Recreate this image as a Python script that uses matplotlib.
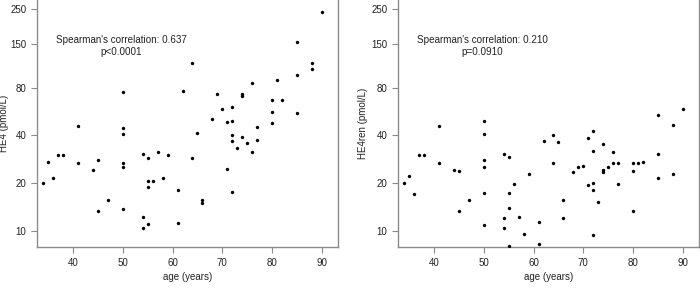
import matplotlib
matplotlib.use("Agg")
import matplotlib.pyplot as plt

# HE4 vs age (left panel)
he4_age = [90, 85, 64, 88, 88, 85, 81, 76, 50, 62, 69, 74, 74, 80, 82, 70, 72,
           80, 85, 68, 71, 72, 80, 41, 50, 50, 77, 65, 72, 74, 72, 77, 75, 73,
           76, 35, 37, 38, 41, 44, 45, 50, 50, 54, 55, 57, 59, 64, 71, 58, 36,
           34, 55, 56, 55, 61, 72, 47, 66, 66, 45, 50, 54, 55, 54, 61]
he4_val = [240, 154, 115, 115, 105, 96.5, 89, 85.5, 75.4, 76.5, 73.2, 73.2, 71,
           66.8, 66.8, 58.7, 60.1, 56.4, 55.4, 50.7, 48.8, 49.4, 47.7, 45.8,
           44.5, 41.0, 45, 41.6, 40.2, 39.3, 37, 37.4, 35.7, 33.2, 31.4, 27.2,
           30.0, 30.2, 26.7, 24.2, 28.0, 26.7, 25.4, 30.5, 29.0, 31.3, 30.1,
           29.0, 24.6, 21.6, 21.6, 20, 20.6, 20.6, 18.9, 18.1, 17.6, 15.7,
           15.8, 15.0, 13.4, 13.7, 12.2, 11.0, 10.4, 11.3]

# HE4ren vs age (right panel)
ren_age = [90, 85, 88, 41, 50, 50, 64, 72, 71, 62, 65, 74, 50, 50, 72, 76, 85,
           37, 38, 41, 44, 45, 54, 55, 59, 64, 68, 69, 70, 74, 74, 75, 76, 77,
           80, 81, 80, 82, 85, 88, 35, 34, 36, 45, 47, 50, 50, 54, 54, 55, 55,
           55, 56, 57, 58, 61, 61, 66, 66, 71, 72, 72, 72, 73, 77, 80]
ren_val = [58.9, 53.5, 46.7, 45.8, 49.1, 41.0, 40.4, 42.8, 38.5, 36.8, 36.6,
           35.3, 28.1, 25.4, 32.0, 31.6, 30.7, 30.0, 30.0, 26.7, 24.2, 24.0,
           30.5, 29.1, 23.0, 26.8, 23.4, 25.4, 25.7, 24.3, 23.7, 25.3, 26.8,
           26.7, 26.8, 26.8, 23.9, 27.3, 21.6, 23.0, 22.2, 20, 17.0, 13.4, 15.7,
           17.4, 10.95, 12.1, 10.4, 17.4, 13.96, 8.04, 19.8, 12.3, 9.6, 11.4,
           8.3, 15.7, 12.1, 19.4, 20.2, 18.1, 9.5, 15.3, 19.7, 13.4]

yticks = [10, 20, 40, 80, 150, 250]
xticks = [40, 50, 60, 70, 80, 90]

plt.rcParams['font.family'] = ['Liberation Sans', 'DejaVu Sans']
plt.rcParams['font.size'] = 7

box_col = '#8a8a8a'
text_col = '#222222'

fig = plt.figure(figsize=(7, 2.96), dpi=100)
ax1 = fig.add_axes([0.0524, 0.1645, 0.4309, 0.8395])
ax2 = fig.add_axes([0.5681, 0.1645, 0.4309, 0.8395])

panels = [
    (ax1, he4_age, he4_val, 'HE4 (pmol/L)', "Spearman's correlation: 0.637", 'p<0.0001', -0.092),
    (ax2, ren_age, ren_val, 'HE4ren (pmol/L)', "Spearman's correlation: 0.210", 'p=0.0910', -0.100),
]

for ax, ages, vals, ylab, rho, pval, lab_x in panels:
    ax.scatter(ages, vals, s=6, color='black', linewidths=0, zorder=3)
    ax.set_yscale('log')
    ax.set_xlim(32.7, 93.3)
    ax.set_ylim(7.9, 290)
    ax.set_yticks(yticks)
    ax.set_yticklabels([str(t) for t in yticks])
    ax.minorticks_off()
    ax.set_xticks(xticks)
    ax.tick_params(length=4.5, width=0.8, color=box_col, labelcolor=text_col,
                   labelsize=7, pad=3)
    for side in ['left', 'bottom', 'right']:
        ax.spines[side].set_color(box_col)
        ax.spines[side].set_linewidth(1.0)
    ax.spines['top'].set_visible(False)
    ax.set_xlabel('age (years)', color=text_col, fontsize=7)
    ax.set_ylabel(ylab, color=text_col, fontsize=7)
    ax.xaxis.set_label_coords(0.5, -0.1)
    ax.yaxis.set_label_coords(lab_x, 0.5)
    ax.text(0.2795, 0.834, rho, transform=ax.transAxes, ha='center', va='center',
            color=text_col, fontsize=7.1)
    ax.text(0.2795, 0.786, pval, transform=ax.transAxes, ha='center', va='center',
            color=text_col, fontsize=7.1)

fig.savefig('out.png', dpi=100)
